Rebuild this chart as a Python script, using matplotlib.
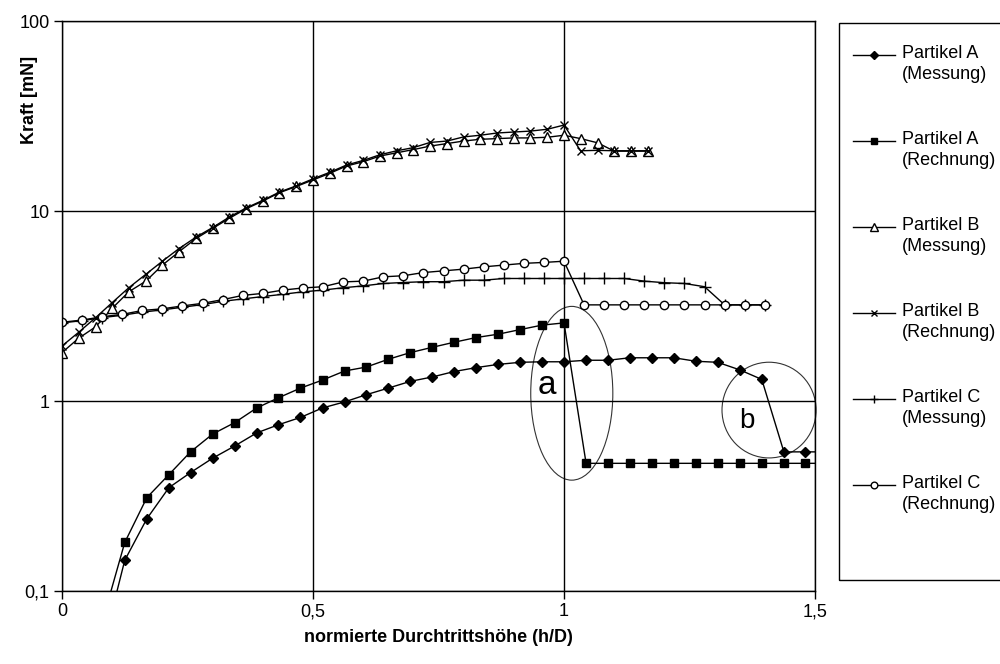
import matplotlib
matplotlib.use("Agg")
import matplotlib.pyplot as plt
from matplotlib.patches import Ellipse, Rectangle
from matplotlib.lines import Line2D
from matplotlib.ticker import FixedLocator, NullLocator

plt.rcParams["font.family"] = ["Liberation Sans", "DejaVu Sans"]

# === Data ===
x_a = [0.081, 0.125, 0.169, 0.213, 0.256, 0.3, 0.344, 0.388, 0.431, 0.475, 0.519,
       0.563, 0.606, 0.65, 0.694, 0.738, 0.781, 0.825, 0.869, 0.913, 0.956, 1.0,
       1.044, 1.088, 1.131, 1.175, 1.219, 1.263, 1.306, 1.35, 1.394, 1.438, 1.481, 1.525]
a_messung = [0.05, 0.145, 0.24, 0.35, 0.42, 0.50, 0.58, 0.68, 0.75, 0.82, 0.92,
             0.99, 1.08, 1.17, 1.27, 1.34, 1.43, 1.50, 1.56, 1.60, 1.61, 1.61,
             1.64, 1.64, 1.69, 1.69, 1.69, 1.62, 1.60, 1.46, 1.30, 0.54, 0.54, 0.54]
a_rechnung = [0.07, 0.18, 0.31, 0.41, 0.54, 0.67, 0.77, 0.92, 1.04, 1.17, 1.29,
              1.44, 1.51, 1.66, 1.80, 1.92, 2.04, 2.16, 2.25, 2.38, 2.51, 2.58,
              0.47, 0.47, 0.47, 0.47, 0.47, 0.47, 0.47, 0.47, 0.47, 0.47, 0.47, 0.47]

x_b = [0, 0.033, 0.067, 0.1, 0.133, 0.167, 0.2, 0.233, 0.267, 0.3, 0.333, 0.367,
       0.4, 0.433, 0.467, 0.5, 0.533, 0.567, 0.6, 0.633, 0.667, 0.7, 0.733, 0.767,
       0.8, 0.833, 0.867, 0.9, 0.933, 0.967, 1.0, 1.033, 1.067, 1.1, 1.133, 1.167]
b_messung = [1.8, 2.14, 2.46, 3.08, 3.76, 4.28, 5.2, 6.11, 7.18, 8.11, 9.16, 10.3,
             11.3, 12.5, 13.5, 14.6, 15.8, 17.3, 18.2, 19.5, 20.3, 21.1, 22.0, 22.7,
             23.4, 23.9, 24.1, 24.3, 24.3, 24.5, 25.1, 24.1, 22.9, 20.7, 20.7, 20.7]
b_rechnung = [1.95, 2.3, 2.75, 3.3, 3.95, 4.65, 5.45, 6.35, 7.3, 8.2, 9.3, 10.4,
              11.4, 12.6, 13.6, 14.8, 16.0, 17.5, 18.5, 19.8, 20.8, 21.6, 23.0, 23.4,
              24.6, 25.1, 25.8, 26.1, 26.4, 27.0, 28.4, 20.8, 20.9, 20.8, 20.8, 20.8]

x_c = [0, 0.04, 0.08, 0.12, 0.16, 0.2, 0.24, 0.28, 0.32, 0.36, 0.4, 0.44, 0.48,
       0.52, 0.56, 0.6, 0.64, 0.68, 0.72, 0.76, 0.8, 0.84, 0.88, 0.92, 0.96, 1.0,
       1.04, 1.08, 1.12, 1.16, 1.2, 1.24, 1.28, 1.32, 1.36, 1.4]
c_messung = [2.58, 2.65, 2.75, 2.83, 2.94, 3.02, 3.12, 3.22, 3.35, 3.45, 3.55, 3.65,
             3.76, 3.84, 3.95, 4.04, 4.16, 4.21, 4.25, 4.25, 4.33, 4.33, 4.42, 4.42,
             4.42, 4.42, 4.42, 4.42, 4.42, 4.28, 4.2, 4.16, 4.0, 3.21, 3.21, 3.21]
c_rechnung = [2.6, 2.67, 2.78, 2.86, 3.0, 3.06, 3.17, 3.27, 3.42, 3.6, 3.69, 3.84,
              3.94, 4.0, 4.24, 4.28, 4.51, 4.57, 4.75, 4.85, 4.95, 5.09, 5.2, 5.31,
              5.37, 5.45, 3.21, 3.21, 3.21, 3.21, 3.21, 3.21, 3.21, 3.21, 3.21, 3.21]

x_ticks = [0, 0.5, 1.0, 1.5]
x_tick_labels = ["0", "0,5", "1", "1,5"]
y_ticks = [0.1, 1, 10, 100]
y_tick_labels = ["0,1", "1", "10", "100"]

labels = ["Partikel A\n(Messung)", "Partikel A\n(Rechnung)",
          "Partikel B\n(Messung)", "Partikel B\n(Rechnung)",
          "Partikel C\n(Messung)", "Partikel C\n(Rechnung)"]

styles = [
    dict(marker="D", ms=5, mfc="black", mec="black"),
    dict(marker="s", ms=6, mfc="black", mec="black"),
    dict(marker="^", ms=7, mfc="white", mec="black", mew=1),
    dict(marker="x", ms=5.5, mfc="none", mec="black", mew=1),
    dict(marker="+", ms=8, mfc="none", mec="black", mew=1),
    dict(marker="o", ms=6, mfc="white", mec="black", mew=1),
]

# === Figure ===
fig = plt.figure(figsize=(10, 6.64), dpi=100)
ax = fig.add_axes([0.062, 0.110, 0.753, 0.858])

series = [(x_a, a_messung), (x_a, a_rechnung), (x_b, b_messung),
          (x_b, b_rechnung), (x_c, c_messung), (x_c, c_rechnung)]
for (xs, ys), st, lab in zip(series, styles, labels):
    ax.plot(xs, ys, color="black", lw=1, label=lab, **st)

ax.set_yscale("log")
ax.set_xlim(0, 1.5)
ax.set_ylim(0.1, 100)
ax.xaxis.set_major_locator(FixedLocator(x_ticks))
ax.set_xticklabels(x_tick_labels)
ax.yaxis.set_major_locator(FixedLocator(y_ticks))
ax.yaxis.set_minor_locator(NullLocator())
ax.set_yticklabels(y_tick_labels)
ax.tick_params(direction="out", length=6, width=1, labelsize=13, pad=3)
ax.grid(True, color="black", lw=1)
for s in ax.spines.values():
    s.set_color("black")
    s.set_linewidth(1)

ax.set_xlabel("normierte Durchtrittshöhe (h/D)", fontsize=13, fontweight="bold", labelpad=6)
fig.text(0.030, 1 - 100 / 664, "Kraft [mN]", rotation=90, ha="center", va="center",
         fontsize=13, fontweight="bold")

# circled regions a and b
ax.add_patch(Ellipse((0.677, 0.347), 0.109, 0.305, transform=ax.transAxes,
                     fill=False, ec="#333333", lw=0.8, clip_on=False))
ax.add_patch(Ellipse((0.939, 0.3175), 0.125, 0.168, transform=ax.transAxes,
                     fill=False, ec="#333333", lw=0.8, clip_on=False))
ax.text(0.644, 0.361, "a", transform=ax.transAxes, ha="center", va="center", fontsize=24)
ax.text(0.909, 0.298, "b", transform=ax.transAxes, ha="center", va="center", fontsize=20)

# === Legend box drawn by hand (handles aligned with first label line) ===
H = 664.0
fig.add_artist(Rectangle((0.839, 1 - 580 / H), 0.2, (580 - 23) / H,
                         transform=fig.transFigure, fill=False, ec="black", lw=1))
for i, (lab, st) in enumerate(zip(labels, styles)):
    yy = 1 - (55 + 86 * i) / H
    st2 = dict(st)
    st2["ms"] = st["ms"] * 0.8
    fig.add_artist(Line2D([0.853, 0.874, 0.895], [yy, yy, yy], transform=fig.transFigure,
                          color="black", lw=1, markevery=[1], **st2))
    fig.text(0.902, yy + 10 / H, lab, ha="left", va="top", fontsize=13,
             linespacing=1.3, transform=fig.transFigure)

fig.savefig("out.png", dpi=100)
